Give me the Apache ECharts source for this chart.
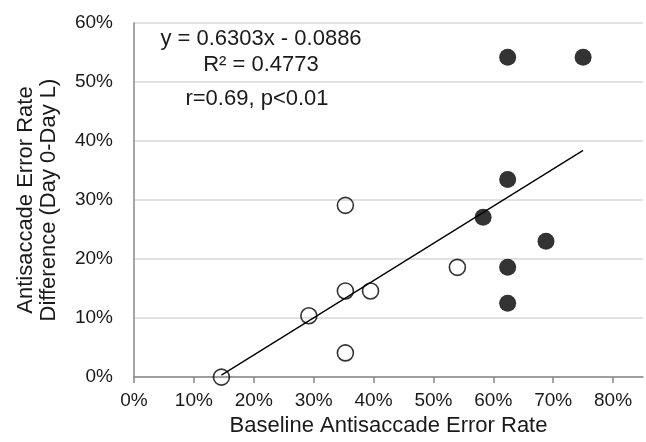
<!DOCTYPE html>
<html>
<head>
<meta charset="utf-8">
<script src="https://cdn.jsdelivr.net/npm/echarts@6/dist/echarts.min.js"></script>
<style>html,body{margin:0;padding:0;background:#fff;overflow:hidden}#c{width:646px;height:442px}</style>
</head>
<body>
<div id="c"></div>
<script>
// Open circles (baseline, difference)
const openX = [0.146, 0.292, 0.353, 0.353, 0.395, 0.353, 0.540];
const openY = [0.000, 0.104, 0.291, 0.146, 0.146, 0.041, 0.186];
// Filled circles
const filledX = [0.624, 0.750, 0.624, 0.583, 0.688, 0.624, 0.624];
const filledY = [0.542, 0.542, 0.335, 0.271, 0.230, 0.186, 0.125];
// Trend line
const slope = 0.6303, intercept = -0.0886;
const trendX = [0.146, 0.750];
const xTicks = [0, 0.1, 0.2, 0.3, 0.4, 0.5, 0.6, 0.7, 0.8];
const annotation = ['y = 0.6303x - 0.0886', 'R\u00b2 = 0.4773', 'r=0.69, p<0.01'];

const FONT = '"Liberation Sans", Arial, sans-serif';
const pct = v => Math.round(v * 100) + '%';

const chart = echarts.init(document.getElementById('c'), null, {renderer: 'canvas'});
chart.setOption({
  backgroundColor: '#fff',
  animation: false,
  grid: {left: 134, right: 3, top: 23, bottom: 58},
  xAxis: {
    type: 'value', min: 0, max: 0.85, interval: 0.1,
    name: 'Baseline Antisaccade Error Rate', nameLocation: 'middle', nameGap: 34,
    nameTextStyle: {fontFamily: FONT, fontSize: 22, color: '#1a1a1a'},
    axisLine: {show: true, lineStyle: {color: '#888', width: 1.5}},
    axisTick: {show: true, length: 6, customValues: xTicks, lineStyle: {color: '#888', width: 1.5}},
    axisLabel: {customValues: xTicks, formatter: pct, fontFamily: FONT, fontSize: 19, color: '#1a1a1a', margin: 14},
    splitLine: {show: false}
  },
  yAxis: {
    type: 'value', min: 0, max: 0.6, interval: 0.1,
    name: 'Antisaccade Error Rate\nDifference (Day 0-Day L)', nameLocation: 'middle', nameGap: 74,
    nameTextStyle: {fontFamily: FONT, fontSize: 22, color: '#1a1a1a', lineHeight: 23},
    axisLine: {show: true, lineStyle: {color: '#888', width: 1.5}},
    axisTick: {show: false},
    axisLabel: {formatter: pct, fontFamily: FONT, fontSize: 19, color: '#1a1a1a', margin: 21},
    splitLine: {show: true, lineStyle: {color: '#d9d9d9', width: 1.5}}
  },
  series: [
    {
      type: 'scatter', data: openX.map((x, i) => [x, openY[i]]),
      symbol: 'circle', symbolSize: 16,
      itemStyle: {color: 'rgba(255,255,255,0)', borderColor: '#000', borderWidth: 1.6},
      z: 2
    },
    {
      type: 'scatter', data: filledX.map((x, i) => [x, filledY[i]]),
      symbol: 'circle', symbolSize: 17,
      itemStyle: {color: '#000'},
      z: 2
    },
    {
      type: 'line', data: trendX.map(x => [x, slope * x + intercept]),
      showSymbol: false, symbol: 'none',
      lineStyle: {color: '#000', width: 1.3},
      z: 3
    }
  ],
  graphic: annotation.map((t, i) => ({
    type: 'text',
    style: {text: t, fontFamily: FONT, fontSize: 22, fill: '#1a1a1a', textAlign: 'center', textVerticalAlign: 'middle'},
    position: [[261, 39], [261, 65], [257, 99]][i]
  }))
});
</script>
</body>
</html>
